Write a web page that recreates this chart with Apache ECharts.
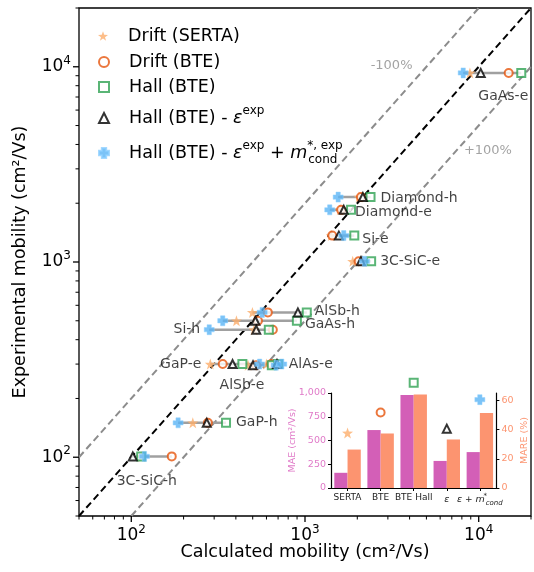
<!DOCTYPE html>
<html><head><meta charset="utf-8">
<script src="https://cdn.jsdelivr.net/npm/echarts@6/dist/echarts.min.js"></script>
<style>html,body{margin:0;padding:0;background:#fff}#c{width:534px;height:572px}</style>
</head><body><div id="c"></div><script>
// ---------------- data ----------------
const materials    = ['GaAs-e','Diamond-h','Diamond-e','Si-e','3C-SiC-e','AlSb-h','GaAs-h','Si-h','GaP-e','AlSb-e','AlAs-e','GaP-h','3C-SiC-h'];
const experimental = [9300, 2150, 1850, 1365, 1008, 552, 500, 450, 300, 296, 300, 150, 101];
const driftSerta   = [8900, 2045, 1593, 1416, 1882, 498, 403, 509, 285, 470, 600, 226, 115];
const driftBte     = [14880, 2099, 1614, 1435, 2037, 611, 536, 653, 336, 524, 640, 276, 171];
const hallBte      = [17580, 2384, 1841, 1922, 2403, 1024, 898, 619, 436, 644, 700, 351, 114];
const hallEps      = [10270, 2154, 1672, 1566, 2099, 910, 518, 524, 383, 502, 690, 272, 102];
const hallEpsMass  = [8140, 1552, 1388, 1672, 2203, 567, 336, 281, 548, 682, 735, 186, 119];

const refRatios    = [1, 2, 0.5];          // y = r * x
const refLabels    = ['-100%', '+100%'];
const refLabelPos  = [[3150, 10100], [11300, 3700]];
const axisRange    = [50, 20000];
const majorTicks   = [100, 1000, 10000];
const minorTicks   = [50,60,70,80,90,200,300,400,500,600,700,800,900,2000,3000,4000,5000,6000,7000,8000,9000,20000];

const insetCategories = ['SERTA', 'BTE', 'BTE Hall', '{i|ε}', '{i|ε} + {i|m}{sp|*}{sb|cond}'];
const insetMAE        = [160, 610, 978, 285, 378];
const insetMARE       = [26.3, 37.3, 63.9, 33.2, 51.4];
const insetMarkerMAE  = [579, 794, 1109, 625, 930];
const maeTicks        = [0, 250, 500, 750, 1000];
const mareTicks       = [0, 20, 40, 60];

// ---------------- styles ----------------
const FONT = 'DejaVu Sans';
const STAR = 'path://M0,-10 L2.35,-3.24 L9.51,-3.09 L3.8,1.24 L5.88,8.09 L0,4 L-5.88,8.09 L-3.8,1.24 L-9.51,-3.09 L-2.35,-3.24 Z';
const PLUS = 'path://M-1.3,-3H1.3V-1.3H3V1.3H1.3V3H-1.3V1.3H-3V-1.3H-1.3Z';
const C_STAR = '#fdae6b', C_CIRC = '#e6550d', C_SQ = '#31a354', C_TRI = '#000000', C_PLUS = '#5ab4f5';
const C_MAE = '#d35fb7', C_MARE = '#fc9470';

const names = ['Drift (SERTA)', 'Drift (BTE)', 'Hall (BTE)', 'Hall (BTE) - ε^exp', 'Hall (BTE) - ε^exp + m*cond'];
const legendFmt = [
  'Drift (SERTA)', 'Drift (BTE)', 'Hall (BTE)',
  'Hall (BTE) - {i|ε}{sp|exp}',
  'Hall (BTE) - {i|ε}{sp|exp} + {i|m}{sp2|*, exp}{sb|cond}'
];
const legendTop = [27, 53, 78, 105, 140];

const labelSpec = {
  'GaAs-e':   {a:'max', dx:-18, dy:23, al:'center'},
  'Diamond-h':{a:'max', dx:10, dy:1, al:'left'},
  'Diamond-e':{a:'max', dx:4, dy:3, al:'left'},
  'Si-e':     {a:'max', dx:8, dy:4, al:'left'},
  '3C-SiC-e': {a:'max', dx:9, dy:0, al:'left'},
  'AlSb-h':   {a:'max', dx:8, dy:-1, al:'left'},
  'GaAs-h':   {a:'max', dx:8, dy:4, al:'left'},
  'Si-h':     {a:'min', dx:-9, dy:0, al:'right'},
  'GaP-e':    {a:'min', dx:-9, dy:0, al:'right'},
  'AlSb-e':   {a:'tri', dx:-11, dy:20, al:'center'},
  'AlAs-e':   {a:'max', dx:7, dy:0, al:'left'},
  'GaP-h':    {a:'max', dx:10, dy:0, al:'left'},
  '3C-SiC-h': {a:'min', dx:14, dy:25, al:'center'}
};

const allSeriesVals = [driftSerta, driftBte, hallBte, hallEps, hallEpsMass];
const rowMin = materials.map((m,i)=>Math.min(...allSeriesVals.map(a=>a[i])));
const rowMax = materials.map((m,i)=>Math.max(...allSeriesVals.map(a=>a[i])));

function pts(arr){ return arr.map((v,i)=>[v, experimental[i]]); }

const supRich = {
  n:  {fontSize: 17, fontFamily: FONT, color:'#000', lineHeight: 24},
  s:  {fontSize: 12, fontFamily: FONT, color:'#000', lineHeight: 12, verticalAlign: 'top'}
};
function powFmt(v){
  const l = Math.log10(v), r = Math.round(l);
  if (Math.abs(l - r) < 1e-6 && majorTicks.indexOf(Math.pow(10, r)) >= 0) return '{n|10}{s|' + r + '}';
  return '';
}

function tickSeries(vals, isX, major){
  return {
    type:'custom', xAxisIndex:0, yAxisIndex:0, silent:true, clip:false, z:10,
    data: vals.map(v => isX ? [v, axisRange[0]] : [axisRange[0], v]),
    encode: {x:0, y:1},
    renderItem: (params, api) => {
      const p = api.coord([api.value(0), api.value(1)]);
      const len = major ? 6 : 3.5;
      const shape = isX ? {x1:p[0], y1:p[1], x2:p[0], y2:p[1]+len} : {x1:p[0]-len, y1:p[1], x2:p[0], y2:p[1]};
      return {type:'line', shape, style:{stroke:'#000', lineWidth: major ? 1.3 : 1}};
    }
  };
}

const series = [];
refRatios.forEach((r, k) => {
  const x0 = Math.max(axisRange[0], axisRange[0]/r), x1 = Math.min(axisRange[1], axisRange[1]/r);
  series.push({
    type:'line', xAxisIndex:0, yAxisIndex:0, silent:true, symbol:'none', z:1,
    data:[[x0, x0*r],[x1, x1*r]],
    lineStyle:{color: r===1 ? '#000' : '#8c8c8c', width: 2, type:[7,4]}
  });
});
series.push({
  type:'custom', xAxisIndex:0, yAxisIndex:0, silent:true, z:2,
  data: materials.map((m,i)=>[rowMin[i], rowMax[i], experimental[i]]),
  encode:{x:[0,1], y:2},
  renderItem:(params, api)=>{
    const a = api.coord([api.value(0), api.value(2)]);
    const b = api.coord([api.value(1), api.value(2)]);
    return {type:'line', shape:{x1:a[0], y1:a[1], x2:b[0], y2:b[1]}, style:{stroke:'#a0a0a0', lineWidth:2.5}};
  }
});
const markerDefs = [
  {data:driftSerta, symbol:STAR, size:11, style:{color:C_STAR}},
  {data:driftBte, symbol:'circle', size:8, style:{color:'#fff', borderColor:C_CIRC, borderWidth:2}},
  {data:hallBte, symbol:'rect', size:8, style:{color:'#fff', borderColor:C_SQ, borderWidth:2}},
  {data:hallEps, symbol:'triangle', size:8, style:{color:'#fff', borderColor:C_TRI, borderWidth:2}},
  {data:hallEpsMass, symbol:PLUS, size:10, style:{color:C_PLUS, borderColor:'#8fd0ff', borderWidth:0.6}}
];
markerDefs.forEach((d,k)=>{
  series.push({
    name: names[k], type:'scatter', xAxisIndex:0, yAxisIndex:0, z:3+k,
    symbol:d.symbol, symbolSize:d.size, itemStyle:d.style, data: pts(d.data)
  });
});
series.push({
  type:'scatter', xAxisIndex:0, yAxisIndex:0, silent:true, symbolSize:0, z:20,
  data: materials.map((m,i)=>{
    const s = labelSpec[m];
    const x = s.a==='max' ? rowMax[i] : s.a==='min' ? rowMin[i] : hallEps[i];
    return {value:[x, experimental[i]], name:m,
      label:{show:true, position:'inside', align:s.al, verticalAlign:'middle', offset:[s.dx, s.dy],
        formatter:m, fontSize:14, fontFamily:FONT, color:'#111'}};
  })
});
series.push({
  type:'scatter', xAxisIndex:0, yAxisIndex:0, silent:true, symbolSize:0, z:20,
  data: refLabels.map((t,i)=>({value:refLabelPos[i], label:{show:true, position:'inside', formatter:t,
     fontSize:13, fontFamily:FONT, color:'#8c8c8c'}}))
});
series.push(tickSeries(majorTicks, true, true));
series.push(tickSeries(minorTicks, true, false));
series.push(tickSeries(majorTicks, false, true));
series.push(tickSeries(minorTicks, false, false));

series.push({type:'bar', xAxisIndex:1, yAxisIndex:2, data:insetMAE, itemStyle:{color:C_MAE}, barGap:'0%', barCategoryGap:'20%', z:30, silent:true});
series.push({type:'bar', xAxisIndex:1, yAxisIndex:3, data:insetMARE, itemStyle:{color:C_MARE}, barGap:'0%', barCategoryGap:'20%', z:30, silent:true});
series.push({
  type:'scatter', xAxisIndex:1, yAxisIndex:2, clip:false, z:31, silent:true,
  data: insetMarkerMAE.map((v,i)=>({value:[i, v], symbol: markerDefs[i].symbol,
     symbolSize: markerDefs[i].size, itemStyle: markerDefs[i].style}))
});

const legendRich = {
  i:  {fontSize:17.5, fontStyle:'italic', fontFamily:FONT, color:'#000', lineHeight:26},
  sp: {fontSize:12, fontFamily:FONT, color:'#000', lineHeight:12, verticalAlign:'top'},
  sp2:{fontSize:12, fontFamily:FONT, color:'#000', lineHeight:12, verticalAlign:'top', width:1},
  sb: {fontSize:12, fontFamily:FONT, color:'#000', lineHeight:12, verticalAlign:'bottom'}
};
const legends = names.map((n,k)=>({
  data:[n], left:98, top:legendTop[k], orient:'vertical', itemWidth:10, itemHeight:10,
  selectedMode:false, padding:0,
  formatter: ()=>legendFmt[k],
  textStyle:{fontSize:17.5, fontFamily:FONT, color:'#000', rich:legendRich, padding:[0,0,0,15]}
}));

const option = {
  animation:false,
  backgroundColor:'#fff',
  legend: legends,
  grid:[
    {left:79, top:8, right:2, bottom:56, show:true, borderColor:'#000', borderWidth:1.3, backgroundColor:'transparent'},
    {left:331, top:393, width:165.4, height:95, show:false}
  ],
  xAxis:[
    {type:'log', gridIndex:0, min:axisRange[0], max:axisRange[1],
     axisLine:{show:false}, axisTick:{show:false}, splitLine:{show:false},
     axisLabel:{formatter:powFmt, margin:8, rich:supRich, showMinLabel:true, showMaxLabel:true},
     name:'Calculated mobility (cm²/Vs)', nameLocation:'middle', nameGap:27, nameMoveOverlap:false,
     nameTextStyle:{fontSize:17.5, fontFamily:FONT, color:'#000'}},
    {type:'category', gridIndex:1, data:insetCategories,
     axisLine:{show:true, lineStyle:{color:'#000', width:1.2}},
     axisTick:{show:true, alignWithLabel:true, length:3, lineStyle:{color:'#000'}},
     axisLabel:{fontSize:9, fontFamily:FONT, color:'#222', margin:5, interval:0,
       rich:{i:{fontSize:9.5, fontStyle:'italic', fontFamily:FONT, color:'#222', lineHeight:14},
             sp:{fontSize:7, fontFamily:FONT, color:'#222', lineHeight:7, verticalAlign:'top', width:1},
             sb:{fontSize:7, fontStyle:'italic', fontFamily:FONT, color:'#222', lineHeight:7, verticalAlign:'bottom'}}}}
  ],
  yAxis:[
    {type:'log', gridIndex:0, min:axisRange[0], max:axisRange[1],
     axisLine:{show:false}, axisTick:{show:false}, splitLine:{show:false},
     axisLabel:{formatter:powFmt, margin:8, rich:supRich, showMinLabel:true, showMaxLabel:true},
     name:'Experimental mobility (cm²/Vs)', nameLocation:'middle', nameGap:50, nameRotate:90, nameMoveOverlap:false,
     nameTextStyle:{fontSize:17.5, fontFamily:FONT, color:'#000'}},
    {show:false, gridIndex:0, type:'value'},
    {type:'value', gridIndex:1, min:0, max:1000, interval:250, position:'left',
     axisLine:{show:true, lineStyle:{color:'#000', width:1.2}},
     axisTick:{show:true, length:3, lineStyle:{color:'#000'}},
     splitLine:{show:false},
     axisLabel:{fontSize:9.5, fontFamily:FONT, color:'#e07ac8', margin:5},
     name:'MAE (cm²/Vs)', nameLocation:'middle', nameGap:33, nameRotate:90, nameMoveOverlap:false,
     nameTextStyle:{fontSize:9.5, fontFamily:FONT, color:'#e07ac8'}},
    {type:'value', gridIndex:1, min:0, max:65, interval:20, position:'right',
     axisLine:{show:true, lineStyle:{color:'#000', width:1.2}},
     axisTick:{show:true, length:3, lineStyle:{color:'#000'}, customValues:mareTicks},
     splitLine:{show:false},
     axisLabel:{fontSize:9.5, fontFamily:FONT, color:'#fc9470', margin:5, customValues:mareTicks,
       formatter:(v)=> (mareTicks.indexOf(v)>=0 ? String(v) : '')},
     name:'MARE (%)', nameLocation:'middle', nameGap:23, nameRotate:90, nameMoveOverlap:false,
     nameTextStyle:{fontSize:9.5, fontFamily:FONT, color:'#fc9470'}}
  ],
  series
};
const chart = echarts.init(document.getElementById('c'), null, {renderer:'canvas'});
chart.setOption(option);
</script></body></html>
